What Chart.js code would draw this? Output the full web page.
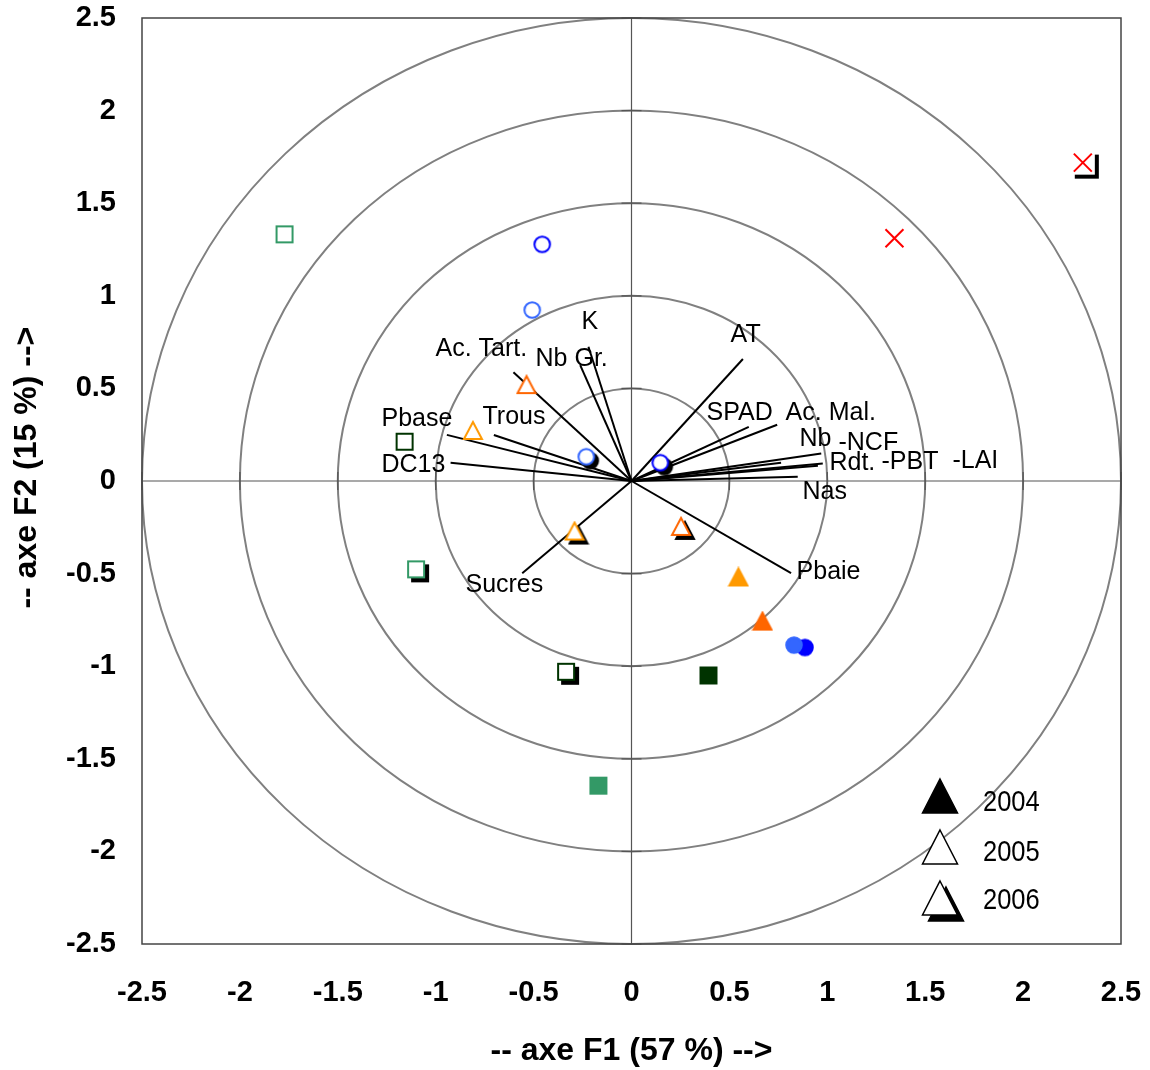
<!DOCTYPE html>
<html>
<head>
<meta charset="utf-8">
<script src="https://cdn.jsdelivr.net/npm/chart.js@4.4.1/dist/chart.umd.min.js"></script>
<style>
  html, body { margin: 0; padding: 0; background: #fff; }
  #wrap { width: 1150px; height: 1070px; }
</style>
</head>
<body>
<div id="wrap"><canvas id="acp" width="1150" height="1070"></canvas></div>
<script>
// axis ticks and correlation circles
var tickValues = [-2.5, -2, -1.5, -1, -0.5, 0, 0.5, 1, 1.5, 2, 2.5]
var circleRadii = [0.5, 1, 1.5, 2, 2.5]

// variable vectors: end point of each one on F1 / F2
var vectorF1 = [-0.603, -0.220, -0.262, -0.943, -0.703, -0.924, 0.569, 0.599, 0.744, 0.969, 0.764, 0.977, 0.952, 0.849, 0.815, -0.558]
var vectorF2 = [0.587, 0.725, 0.626, 0.249, 0.248, 0.099, 0.659, 0.292, 0.304, 0.149, 0.099, 0.095, 0.083, 0.023, -0.498, -0.498]

// variable names, placed where they sit on the plot
var labelText = ['Ac. Tart.', 'Nb Gr.', 'K', 'Pbase', 'Trous', 'DC13', 'AT', 'SPAD', 'Ac. Mal.', 'Nb', '-NCF', 'Rdt.', '-PBT', '-LAI', 'Nas', 'Pbaie', 'Sucres']
var labelF1 = [-1.001, -0.490, -0.255, -1.277, -0.761, -1.277, 0.506, 0.383, 0.787, 0.858, 1.057, 1.011, 1.277, 1.639, 0.873, 0.843, -0.848]
var labelF2 = [0.713, 0.659, 0.860, 0.335, 0.346, 0.086, 0.786, 0.367, 0.367, 0.227, 0.205, 0.097, 0.103, 0.108, -0.059, -0.491, -0.562]

// individuals, one value per year [2004, 2005, 2006]
var years = ['2004', '2005', '2006']
var lightBlueF1 = [0.830, -0.507, -0.231]
var lightBlueF2 = [-0.886, 0.923, 0.131]
var blueF1 = [0.886, -0.456, 0.147]
var blueF2 = [-0.899, 1.278, 0.099]
var darkGreenF1 = [0.393, -1.159, -0.334]
var darkGreenF2 = [-1.050, 0.212, -1.030]
var greenF1 = [-0.169, -1.772, -1.100]
var greenF2 = [-1.645, 1.332, -0.477]
var orangeF1 = [0.546, -0.810, -0.291]
var orangeF2 = [-0.521, 0.270, -0.273]
var darkOrangeF1 = [0.669, -0.536, 0.253]
var darkOrangeF2 = [-0.759, 0.518, -0.248]
// red crosses: plain one and the one with a shadow
var redF1 = [1.343, 2.305]
var redF2 = [1.311, 1.719]

var FONT = "'Liberation Sans', Arial, sans-serif"
Chart.defaults.font.family = FONT

// marker drawn once on a small canvas, so a shadow is cast by the whole shape
function markerImage (shape, fill, stroke) {
  var c = document.createElement('canvas')
  c.width = 22
  c.height = 22
  var g = c.getContext('2d')
  g.beginPath()
  if (shape === 'circle') {
    g.arc(11, 11, 7.8, 0, 2 * Math.PI)
  } else if (shape === 'rect') {
    g.rect(3, 3, 16, 16)
  } else {
    g.moveTo(11, 2)
    g.lineTo(20, 19)
    g.lineTo(2, 19)
    g.closePath()
  }
  g.fillStyle = fill
  g.fill()
  g.lineWidth = 2
  g.strokeStyle = stroke
  g.stroke()
  return c
}

// 2004 filled, 2005 open, 2006 open with a black shadow
function markers (f1, f2, color, shape) {
  var sets = []
  for (var i = 0; i < f1.length; i++) {
    sets.push({
      label: years[i],
      data: [{ x: f1[i], y: f2[i] }],
      pointStyle: markerImage(shape, i === 0 ? color : '#fff', color),
      pointRadius: 10,
      shadow: i === 2,
      order: 1
    })
  }
  return sets
}

var datasets = []
datasets = datasets.concat(markers(lightBlueF1, lightBlueF2, '#3366FF', 'circle'))
datasets = datasets.concat(markers(blueF1, blueF2, '#0000FF', 'circle'))
datasets = datasets.concat(markers(darkGreenF1, darkGreenF2, '#003300', 'rect'))
datasets = datasets.concat(markers(greenF1, greenF2, '#339966', 'rect'))
datasets = datasets.concat(markers(orangeF1, orangeF2, '#FF9900', 'triangle'))
datasets = datasets.concat(markers(darkOrangeF1, darkOrangeF2, '#FF6600', 'triangle'))

datasets.push({
  label: 'x',
  data: redF1.map(function (v, i) { return { x: v, y: redF2[i] } }),
  pointStyle: 'crossRot',
  pointRadius: 12.7,
  pointBorderColor: '#FF0000',
  pointBorderWidth: 2,
  order: 1
})
// white box under the second cross, it casts the square shadow
datasets.push({
  label: 'x shadow',
  data: [{ x: redF1[1], y: redF2[1] }],
  pointStyle: 'rect',
  pointRadius: 17,
  pointBackgroundColor: '#fff',
  pointBorderColor: '#fff',
  pointBorderWidth: 0,
  shadow: true,
  order: 2
})

for (var v = 0; v < vectorF1.length; v++) {
  datasets.push({
    label: 'var' + v,
    data: [{ x: 0, y: 0 }, { x: vectorF1[v], y: vectorF2[v] }],
    showLine: true,
    borderColor: '#000',
    borderWidth: 2,
    pointRadius: 0,
    order: 3
  })
}

var backgroundPlugin = {
  id: 'acpBackground',
  beforeDatasetsDraw: function (chart) {
    var ctx = chart.ctx
    var xs = chart.scales.x
    var ys = chart.scales.y
    var a = chart.chartArea
    var x0 = xs.getPixelForValue(0)
    var y0 = ys.getPixelForValue(0)
    ctx.save()
    ctx.strokeStyle = '#808080'
    ctx.lineWidth = 2
    circleRadii.forEach(function (r) {
      ctx.beginPath()
      ctx.ellipse(x0, y0, xs.getPixelForValue(r) - x0, y0 - ys.getPixelForValue(r), 0, 0, 2 * Math.PI)
      ctx.stroke()
    })
    // axes through the origin, with their tick marks
    ctx.strokeStyle = '#555'
    ctx.lineWidth = 1.2
    ctx.beginPath()
    ctx.moveTo(a.left, y0)
    ctx.lineTo(a.right, y0)
    ctx.moveTo(x0, a.top)
    ctx.lineTo(x0, a.bottom)
    tickValues.forEach(function (t) {
      var px = xs.getPixelForValue(t)
      var py = ys.getPixelForValue(t)
      ctx.moveTo(px, y0 - 9)
      ctx.lineTo(px, y0 + 9)
      ctx.moveTo(x0 - 10, py)
      ctx.lineTo(x0 + 10, py)
    })
    ctx.stroke()
    ctx.strokeStyle = '#444'
    ctx.lineWidth = 1.5
    ctx.strokeRect(a.left, a.top, a.right - a.left, a.bottom - a.top)
    ctx.restore()
  }
}

var shadowPlugin = {
  id: 'markerShadow',
  beforeDatasetDraw: function (chart, args) {
    if (chart.data.datasets[args.index].shadow) {
      var ctx = chart.ctx
      ctx.save()
      ctx.shadowColor = '#000'
      ctx.shadowOffsetX = 4
      ctx.shadowOffsetY = 4
      ctx.shadowBlur = 0
    }
  },
  afterDatasetDraw: function (chart, args) {
    if (chart.data.datasets[args.index].shadow) chart.ctx.restore()
  }
}

var labelPlugin = {
  id: 'varLabels',
  afterDatasetsDraw: function (chart) {
    var ctx = chart.ctx
    var xs = chart.scales.x
    var ys = chart.scales.y
    ctx.save()
    ctx.font = '25px ' + FONT
    ctx.fillStyle = '#000'
    ctx.textAlign = 'left'
    ctx.textBaseline = 'middle'
    for (var i = 0; i < labelText.length; i++) {
      ctx.fillText(labelText[i], xs.getPixelForValue(labelF1[i]), ys.getPixelForValue(labelF2[i]))
    }
    ctx.restore()
  }
}

var legendPlugin = {
  id: 'yearLegend',
  afterDraw: function (chart) {
    var ctx = chart.ctx
    var cx = 940
    var tops = [779, 830, 881]
    ctx.save()
    ctx.lineWidth = 1.5
    ctx.strokeStyle = '#000'
    function tri (x, top, fill) {
      ctx.beginPath()
      ctx.moveTo(x, top)
      ctx.lineTo(x + 17.5, top + 34)
      ctx.lineTo(x - 17.5, top + 34)
      ctx.closePath()
      ctx.fillStyle = fill
      ctx.fill()
      ctx.stroke()
    }
    tri(cx, tops[0], '#000')
    tri(cx, tops[1], '#fff')
    tri(cx + 6, tops[2] + 6, '#000')
    tri(cx, tops[2], '#fff')
    ctx.fillStyle = '#000'
    ctx.font = '30px ' + FONT
    ctx.textBaseline = 'middle'
    ctx.textAlign = 'left'
    var ys = [802.5, 852.5, 901]
    for (var i = 0; i < years.length; i++) {
      ctx.save()
      ctx.translate(983, ys[i])
      ctx.scale(0.85, 1)
      ctx.fillText(years[i], 0, 0)
      ctx.restore()
    }
    ctx.restore()
  }
}

function tickSetter (scale) {
  scale.ticks = tickValues.map(function (t) { return { value: t } })
}

new Chart(document.getElementById('acp').getContext('2d'), {
  type: 'scatter',
  data: { datasets: datasets },
  options: {
    responsive: false,
    animation: false,
    events: [],
    layout: { padding: { top: 18, right: 29, bottom: 0, left: 0 } },
    plugins: { legend: { display: false }, tooltip: { enabled: false } },
    scales: {
      x: {
        type: 'linear',
        min: -2.5,
        max: 2.5,
        afterBuildTicks: tickSetter,
        afterFit: function (s) {
          s.height = 126
          s.paddingLeft = 0
          s.paddingRight = 0
        },
        grid: { display: false, drawTicks: false },
        border: { display: false },
        ticks: {
          padding: 32,
          color: '#000',
          autoSkip: false,
          maxRotation: 0,
          font: { size: 29, weight: 'bold' },
          callback: function (v) { return String(v) }
        },
        title: {
          display: true,
          text: '-- axe F1 (57 %) -->',
          color: '#000',
          font: { size: 32, weight: 'bold' },
          padding: { top: 0, bottom: 0 }
        }
      },
      y: {
        type: 'linear',
        min: -2.5,
        max: 2.5,
        afterBuildTicks: tickSetter,
        afterFit: function (s) {
          s.width = 142
          s.paddingTop = 0
          s.paddingBottom = 0
        },
        grid: { display: false, drawTicks: false },
        border: { display: false },
        ticks: {
          padding: 26,
          color: '#000',
          autoSkip: false,
          font: { size: 29, weight: 'bold' },
          callback: function (v) { return String(v) }
        },
        title: {
          display: true,
          text: '   -- axe F2 (15 %) -->',
          color: '#000',
          font: { size: 32, weight: 'bold' },
          padding: { top: 8, bottom: 0 }
        }
      }
    }
  },
  plugins: [backgroundPlugin, shadowPlugin, labelPlugin, legendPlugin]
})
</script>
</body>
</html>
